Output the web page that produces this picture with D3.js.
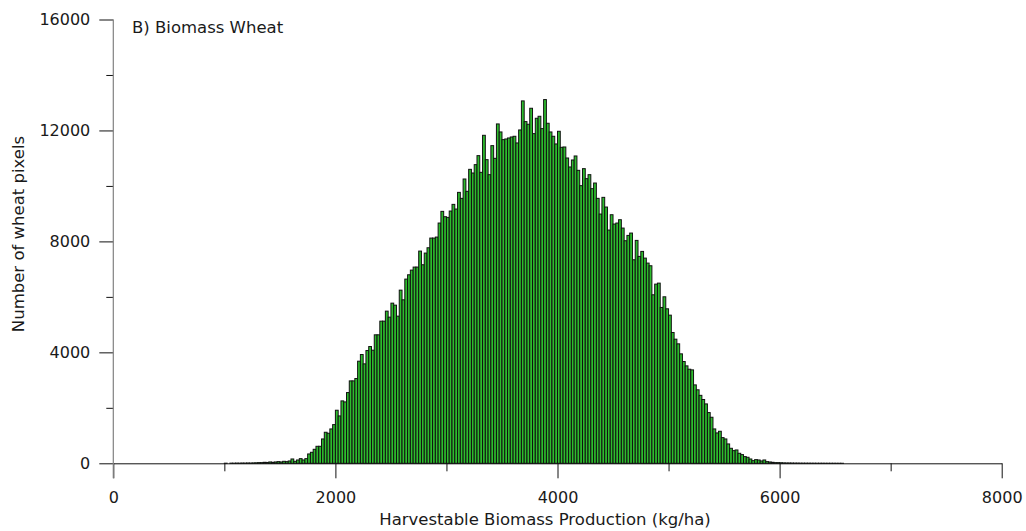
<!DOCTYPE html>
<html lang="en">
<head>
  <meta charset="UTF-8">
  <title>Biomass Wheat</title>
  <script src="https://cdn.jsdelivr.net/npm/d3@7"></script>
  <style>
    body { margin: 0; background: #fff; }
    svg text { font-family: "DejaVu Sans", Verdana, sans-serif; fill: #1a1a1a; }
    .bar { fill: #2dbd2d; stroke: #111; stroke-width: 1; }
  </style>
</head>
<body>
  <svg width="1026" height="531"></svg>
  <script>
    // histogram bins, 25 kg/ha wide, first bin starts at 1000 kg/ha
    const binWidth = 25;
    const firstBinStart = 1000;
    const pixelCounts = [
      4, 0, 6, 4, 8, 5, 10, 8, 12, 10, 14, 18,
      24, 24, 36, 30, 48, 36, 48, 60, 48, 72, 60, 84,
      156, 72, 120, 168, 120, 168, 337, 397, 505, 613, 613, 878, 1119, 1083, 1239, 1395,
      1913, 1708, 2250, 2213, 2550, 2971, 2971, 3056, 3681, 3922, 3585, 4066, 4210, 4078,
      4632, 4632, 5125, 5125, 5486, 5269, 5774, 5702, 5305, 6243, 5894, 6641, 6797, 6965,
      7074, 7074, 7651, 7158, 7579, 7771, 8120, 8120, 8156,
      8662, 9083, 8890, 8866, 9095, 9335, 9167, 9768, 9552, 10250, 9805, 10598, 10466,
      10767, 11092, 10490, 11825, 10947, 10406, 11453, 10995, 12235, 11946, 11669, 11693,
      11729, 11765, 11790, 11549, 12018, 13065, 12319, 12223, 12800, 11885, 12439, 12511,
      12066, 13113, 12259, 11946, 11790, 11513, 11970, 11392, 11404, 11007, 10683, 10935,
      11080, 10562, 10009, 10623, 10262, 10406, 9901, 10105, 9552, 8986, 9588, 9239,
      8409, 8962, 8626, 8662,
      8782, 8481, 8024, 8216, 8301, 7338, 8036, 7459, 7639, 7398, 7218, 7122, 6075, 6460,
      6496, 5618, 6003, 5570, 5341, 4716, 4475, 4307, 3946, 3669, 3513, 3392, 3368, 2827,
      2650, 2450, 2300,
      2141, 1829, 1660, 1239, 1095, 1155, 926, 878, 698, 541, 457, 481, 361, 313, 241,
      217, 156, 96, 132, 120, 84, 120, 60, 48, 36, 24, 24,
      20, 15, 12, 12, 10, 8, 8, 6, 6, 5, 5, 4, 4, 3, 3, 3, 2, 2, 2, 2, 1, 1, 1
    ];
    const xTickValues = d3.range(0, 8001, 1000);
    const yTickValues = d3.range(0, 16001, 2000);
    const titleText = 'B) Biomass Wheat';
    const xLabel = 'Harvestable Biomass Production (kg/ha)';
    const yLabel = 'Number of wheat pixels';

    const svg = d3.select('svg');

    const x = d3.scaleLinear().domain([0, 8000]).range([113.3, 1001.7]);
    const y = d3.scaleLinear().domain([0, 16000]).range([463.3, 19.5]);

    const bins = pixelCounts.map((c, i) => ({ x0: firstBinStart + i * binWidth, count: c }));

    svg.append('g')
      .selectAll('rect')
      .data(bins)
      .enter()
      .append('rect')
      .attr('class', 'bar')
      .attr('x', d => x(d.x0))
      .attr('y', d => y(d.count))
      .attr('width', x(binWidth) - x(0))
      .attr('height', d => y(0) - y(d.count));

    // x axis: major ticks labelled every 2000, minor in between
    const xAxis = svg.append('g')
      .attr('transform', `translate(0,${y(0)})`)
      .call(d3.axisBottom(x)
        .tickValues(xTickValues)
        .tickSize(15)
        .tickSizeOuter(0)
        .tickPadding(13)
        .tickFormat(d => (d % 2000 === 0 ? d : '')));
    xAxis.select('.domain').attr('stroke', '#111');
    xAxis.selectAll('.tick line')
      .attr('stroke', '#111')
      .attr('y2', d => (d % 2000 === 0 ? 15 : 8));
    xAxis.selectAll('.tick text')
      .attr('font-size', 16)
      .attr('font-family', '"DejaVu Sans", Verdana, sans-serif');

    // y axis
    const yAxis = svg.append('g')
      .attr('transform', `translate(${x(0)},0)`)
      .call(d3.axisLeft(y)
        .tickValues(yTickValues)
        .tickSize(14)
        .tickSizeOuter(0)
        .tickPadding(9)
        .tickFormat(d => (d % 4000 === 0 ? d : '')));
    yAxis.select('.domain').remove();
    yAxis.append('line')
      .attr('x1', 0).attr('x2', 0)
      .attr('y1', y(16000)).attr('y2', y(0) + 15)
      .attr('stroke', '#808080')
      .attr('stroke-width', 1.2);
    yAxis.selectAll('.tick line')
      .attr('stroke', '#111')
      .attr('x2', d => (d % 4000 === 0 ? -14 : -7));
    yAxis.selectAll('.tick text')
      .attr('font-size', 16)
      .attr('font-family', '"DejaVu Sans", Verdana, sans-serif');

    svg.append('text')
      .attr('x', 132)
      .attr('y', 33)
      .attr('font-size', 16.5)
      .text(titleText);

    svg.append('text')
      .attr('x', 545)
      .attr('y', 525)
      .attr('text-anchor', 'middle')
      .attr('font-size', 16.5)
      .text(xLabel);

    svg.append('text')
      .attr('transform', 'translate(23.5,234) rotate(-90)')
      .attr('text-anchor', 'middle')
      .attr('font-size', 16.5)
      .text(yLabel);
  </script>
</body>
</html>
